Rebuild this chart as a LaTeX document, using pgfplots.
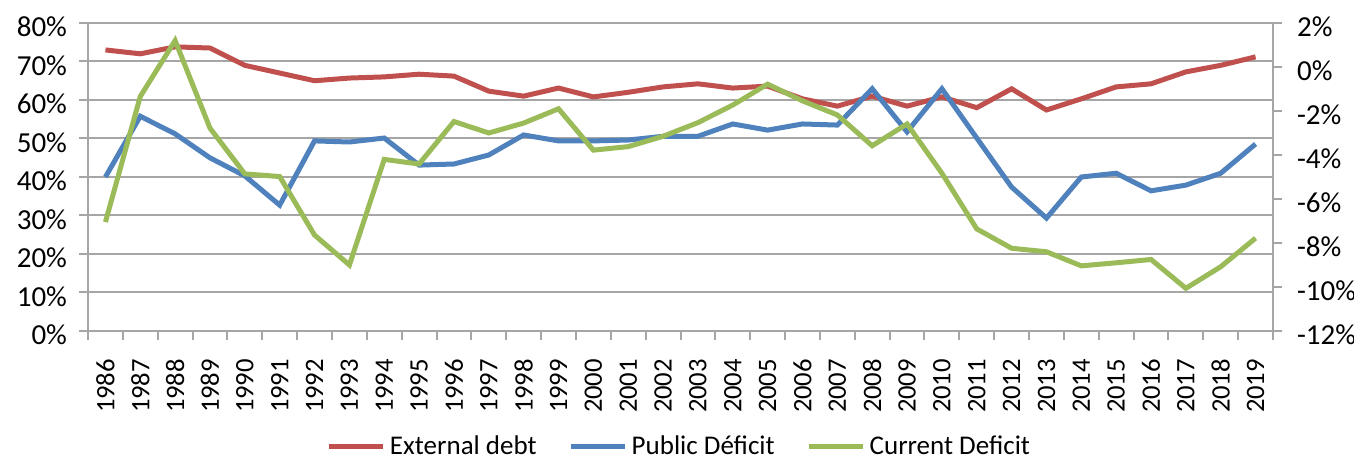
\documentclass[border=0pt]{standalone}
\usepackage{fontspec}
\setmainfont{Carlito}
\usepackage{pgfplots}
\pgfplotsset{compat=1.18}
\definecolor{debtred}{HTML}{C0504D}
\definecolor{pubblue}{HTML}{4F81BD}
\definecolor{curgreen}{HTML}{9BBB59}
\definecolor{gridgray}{HTML}{A6A6A6}
\newcommand{\lblfont}{\fontsize{14.5}{17}\selectfont}
\newcommand{\yearfont}{\fontsize{13.3}{16}\selectfont}
\newcommand{\legfont}{\fontsize{13.5}{16}\selectfont}

\begin{document}
\begin{tikzpicture}
\pgfplotsset{
	common/.style={
		scale only axis,
		width=592.5pt,
		height=154pt,
		xmin=-0.5, xmax=33.5,
		tick align=outside,
		major tick length=4.5pt,
		axis line style={gridgray, line width=1pt},
		tick style={gridgray, line width=1pt},
		tick label style={font=\lblfont, black},
	},
}
% left axis: external debt
\begin{axis}[
		common,
		name=ax,
		ymin=0, ymax=80,
		axis x line*=bottom,
		axis y line*=left,
		xtick={-0.5,0.5,...,33.5},
		x tick label as interval,
		xticklabels={1986,1987,1988,1989,1990,1991,1992,1993,1994,1995,1996,1997,1998,1999,2000,2001,2002,2003,2004,2005,2006,2007,2008,2009,2010,2011,2012,2013,2014,2015,2016,2017,2018,2019},
		x tick label style={rotate=90, anchor=east, font=\yearfont},
		xticklabel shift=6pt,
		ytick={0,10,...,80},
		yticklabels={0\%,10\%,20\%,30\%,40\%,50\%,60\%,70\%,80\%},
		y tick label style={xshift=-2.5pt, yshift=-2pt},
		ymajorgrids,
		grid style={gridgray, line width=1pt},
	]
	\addplot [debtred, line width=2.5pt] coordinates {
		(0,73.0) (1,72.0) (2,73.8) (3,73.5) (4,69.0) (5,67.0) (6,65.0) (7,65.7)
		(8,66.0) (9,66.7) (10,66.2) (11,62.3) (12,61.0) (13,63.1) (14,60.8) (15,62.0)
		(16,63.4) (17,64.2) (18,63.1) (19,63.6) (20,60.3) (21,58.4) (22,61.0) (23,58.4)
		(24,60.8) (25,58.0) (26,62.9) (27,57.4) (28,60.3) (29,63.4) (30,64.2) (31,67.3)
		(32,69.0) (33,71.2)
	};
\end{axis}
% right axis: deficits
\begin{axis}[
		common,
		ymin=-12, ymax=2,
		axis x line=none,
		axis y line*=right,
		ytick={-12,-10,...,2},
		yticklabels={-12\%,-10\%,-8\%,-6\%,-4\%,-2\%,0\%,2\%},
		y tick label style={xshift=4pt, yshift=-2pt},
		legend columns=3,
		legend style={
			at={(0.5,-0.375)}, anchor=center, draw=none,
			inner sep=1pt,
			font=\legfont,
			/tikz/every even column/.append style={column sep=14pt},
		},
		legend image code/.code={\draw[#1] (0pt,0pt) -- (27pt,0pt);},
	]
	\addlegendimage{debtred, line width=2.5pt}
	\addplot [pubblue, line width=2.5pt] coordinates {
		(0,-5.00) (1,-2.24) (2,-3.04) (3,-4.13) (4,-4.95) (5,-6.28) (6,-3.36) (7,-3.41)
		(8,-3.23) (9,-4.46) (10,-4.41) (11,-4.00) (12,-3.09) (13,-3.36) (14,-3.36) (15,-3.32)
		(16,-3.15) (17,-3.15) (18,-2.59) (19,-2.87) (20,-2.59) (21,-2.64) (22,-0.99) (23,-2.95)
		(24,-0.99) (25,-3.23) (26,-5.46) (27,-6.87) (28,-5.00) (29,-4.83) (30,-5.63) (31,-5.37)
		(32,-4.83) (33,-3.50)
	};
	\addplot [curgreen, line width=2.5pt] coordinates {
		(0,-7.05) (1,-1.34) (2,1.20) (3,-2.78) (4,-4.86) (5,-4.98) (6,-7.64) (7,-9.00)
		(8,-4.20) (9,-4.41) (10,-2.48) (11,-3.00) (12,-2.55) (13,-1.90) (14,-3.78) (15,-3.62)
		(16,-3.15) (17,-2.53) (18,-1.73) (19,-0.78) (20,-1.54) (21,-2.18) (22,-3.58) (23,-2.59)
		(24,-4.83) (25,-7.36) (26,-8.24) (27,-8.40) (28,-9.04) (29,-8.90) (30,-8.75) (31,-10.06)
		(32,-9.08) (33,-7.78)
	};
	\legend{External debt, Public Déficit, Current Deficit}
\end{axis}
% page frame as in the reference
\pgfresetboundingbox
\path ([xshift=-44pt, yshift=-65pt]ax.south west) rectangle ([xshift=40.5pt, yshift=11.5pt]ax.north east);
\end{tikzpicture}
\end{document}
